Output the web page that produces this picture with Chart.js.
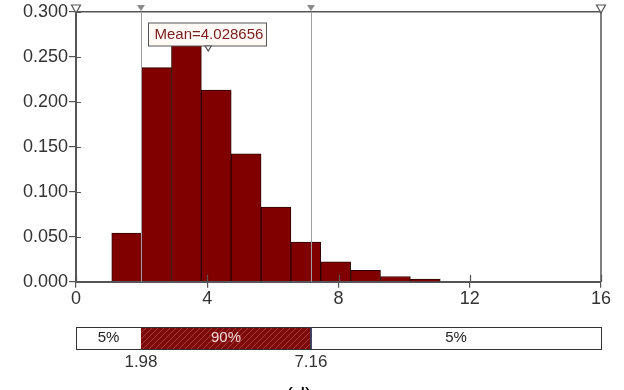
<!DOCTYPE html>
<html>
<head>
<meta charset="utf-8">
<script src="https://cdn.jsdelivr.net/npm/chart.js@4.4.0/dist/chart.umd.min.js"></script>
<style>
    html, body { margin: 0; padding: 0; background: #fff; }
    #wrap { width: 624px; height: 390px; position: relative; }
</style>
</head>
<body>
<div id="wrap"><canvas id="myChart" width="624" height="390"></canvas></div>
<script>
// histogram bins (centres) and their density values
const binCenters = [1.545, 2.455, 3.365, 4.275, 5.185, 6.095, 7.005, 7.915, 8.825, 9.735, 10.645];
const binValues = [0.054, 0.238, 0.270, 0.213, 0.142, 0.083, 0.044, 0.022, 0.0125, 0.0058, 0.0028];

const xTicks = [0, 4, 8, 12, 16];
const yTicks = [0, 0.05, 0.10, 0.15, 0.20, 0.25, 0.30];

const meanValue = 4.028656;
const lowerBound = 1.98;
const upperBound = 7.16;
const bandLabels = ['5%', '90%', '5%'];
const caption = '(d)';

const FONT = "'Liberation Sans', Arial, sans-serif";

function tri(ctx, x, yTop, w, h, filled, color) {
    ctx.beginPath();
    ctx.moveTo(x - w / 2, yTop);
    ctx.lineTo(x + w / 2, yTop);
    ctx.lineTo(x, yTop + h);
    ctx.closePath();
    if (filled) {
        ctx.fillStyle = color;
        ctx.fill();
    } else {
        ctx.fillStyle = '#fff';
        ctx.fill();
        ctx.strokeStyle = color;
        ctx.lineWidth = 1.2;
        ctx.stroke();
    }
}

// frame, marker lines, mean label and the lower 90% strip
const decorations = {
    id: 'decorations',
    afterDatasetsDraw(chart) {
        const ctx = chart.ctx;
        const area = chart.chartArea;
        const x = chart.scales.x;
        const y = chart.scales.y;
        ctx.save();

        // top and right frame
        ctx.strokeStyle = '#555';
        ctx.lineWidth = 1.5;
        ctx.beginPath();
        ctx.moveTo(area.left, area.top);
        ctx.lineTo(area.right, area.top);
        ctx.lineTo(area.right, area.bottom);
        ctx.stroke();

        // small tick parts inside the plot
        ctx.lineWidth = 1.2;
        ctx.beginPath();
        yTicks.forEach(v => {
            const py = Math.round(y.getPixelForValue(v)) + 0.5;
            ctx.moveTo(area.left, py);
            ctx.lineTo(area.left + 5, py);
        });
        xTicks.forEach(v => {
            const px = Math.round(x.getPixelForValue(v)) + 0.5;
            ctx.moveTo(px, area.bottom);
            ctx.lineTo(px, area.bottom - 7);
        });
        ctx.stroke();

        // grey bound lines
        const lx = x.getPixelForValue(lowerBound);
        const ux = x.getPixelForValue(upperBound);
        ctx.strokeStyle = '#a0a0a0';
        ctx.lineWidth = 1;
        [lx, ux].forEach(px => {
            ctx.beginPath();
            ctx.moveTo(Math.round(px) + 0.5, area.top);
            ctx.lineTo(Math.round(px) + 0.5, area.bottom);
            ctx.stroke();
        });

        // triangles on top edge
        tri(ctx, lx, 5, 8, 6, true, '#8a8a8a');
        tri(ctx, ux, 5, 8, 6, true, '#8a8a8a');
        tri(ctx, x.getPixelForValue(0), 5, 9, 8, false, '#555');
        tri(ctx, x.getPixelForValue(16), 5, 9, 8, false, '#555');

        // mean label
        const mx = x.getPixelForValue(meanValue);
        const bx = Math.round(mx - 60) + 0.5;
        ctx.fillStyle = '#fffaf6';
        ctx.fillRect(bx, 23, 118, 23);
        ctx.strokeStyle = '#555';
        ctx.lineWidth = 1;
        ctx.strokeRect(bx, 23, 118, 23);
        ctx.fillStyle = '#7a2020';
        ctx.font = '15px ' + FONT;
        ctx.textAlign = 'left';
        ctx.textBaseline = 'middle';
        ctx.fillText('Mean=' + meanValue.toFixed(6), bx + 6, 35);
        tri(ctx, mx, 46, 6, 5, false, '#555');

        // lower strip
        const sx0 = x.getPixelForValue(0);
        const sx1 = x.getPixelForValue(16);
        const sy = 327, sh = 22;
        ctx.fillStyle = '#fff';
        ctx.fillRect(sx0, sy, sx1 - sx0, sh);
        ctx.fillStyle = '#7d0a0a';
        ctx.fillRect(lx, sy, ux - lx, sh);
        // hatching
        ctx.save();
        ctx.beginPath();
        ctx.rect(lx, sy, ux - lx, sh);
        ctx.clip();
        ctx.strokeStyle = '#a83a3a';
        ctx.lineWidth = 1;
        for (let hx = lx - sh; hx < ux + sh; hx += 6) {
            ctx.beginPath();
            ctx.moveTo(hx, sy + sh);
            ctx.lineTo(hx + sh, sy);
            ctx.stroke();
        }
        ctx.restore();
        ctx.strokeStyle = '#333';
        ctx.lineWidth = 1;
        ctx.strokeRect(Math.round(sx0) + 0.5, sy + 0.5, Math.round(sx1 - sx0), sh);
        ctx.strokeStyle = '#3a3a5a';
        ctx.lineWidth = 2;
        ctx.beginPath();
        ctx.moveTo(ux, sy);
        ctx.lineTo(ux, sy + sh);
        ctx.stroke();

        ctx.font = '15px ' + FONT;
        ctx.textAlign = 'center';
        ctx.textBaseline = 'middle';
        ctx.fillStyle = '#222';
        ctx.fillText(bandLabels[0], (sx0 + lx) / 2, sy + sh / 2);
        ctx.fillStyle = '#f2d6d6';
        ctx.fillText(bandLabels[1], (lx + ux) / 2, sy + sh / 2);
        ctx.fillStyle = '#222';
        ctx.fillText(bandLabels[2], (ux + sx1) / 2, sy + sh / 2);

        ctx.font = '17px ' + FONT;
        ctx.fillStyle = '#333';
        ctx.fillText(lowerBound.toFixed(2), lx, 362);
        ctx.fillText(upperBound.toFixed(2), ux, 362);

        ctx.font = '22px ' + FONT;
        ctx.fillStyle = '#000';
        ctx.textBaseline = 'top';
        ctx.fillText(caption, 299, 386);

        ctx.restore();
    }
};

const ctx = document.getElementById('myChart').getContext('2d');
const myChart = new Chart(ctx, {
    type: 'bar',
    data: {
        datasets: [{
            data: binCenters.map((c, i) => ({ x: c, y: binValues[i] })),
            backgroundColor: '#800000',
            borderColor: '#2e0000',
            borderWidth: 1,
            barPercentage: 1,
            categoryPercentage: 1
        }]
    },
    options: {
        responsive: false,
        animation: false,
        layout: { padding: { top: 0, right: 23, left: 0, bottom: 0 } },
        plugins: {
            legend: { display: false },
            tooltip: { enabled: false }
        },
        scales: {
            x: {
                type: 'linear',
                offset: false,
                min: 0,
                max: 16,
                afterBuildTicks: (scale) => { scale.ticks = xTicks.map(v => ({ value: v })); },
                afterFit: (scale) => { scale.height = 108.3; },
                grid: { drawOnChartArea: false, offset: false, tickLength: 6, color: '#555', lineWidth: 1.2 },
                border: { color: '#555', width: 2 },
                ticks: {
                    color: '#333',
                    padding: 1,
                    maxRotation: 0,
                    font: { family: FONT, size: 18 }
                }
            },
            y: {
                min: 0,
                max: 0.3,
                afterBuildTicks: (scale) => { scale.ticks = yTicks.map(v => ({ value: v })); },
                afterFit: (scale) => { scale.width = 76; },
                grid: { drawOnChartArea: false, tickLength: 7, color: '#555', lineWidth: 1.2 },
                border: { color: '#555', width: 2 },
                ticks: {
                    color: '#333',
                    padding: 1,
                    font: { family: FONT, size: 18 },
                    callback: (v) => v.toFixed(3)
                }
            }
        }
    },
    plugins: [decorations]
});
</script>
</body>
</html>
